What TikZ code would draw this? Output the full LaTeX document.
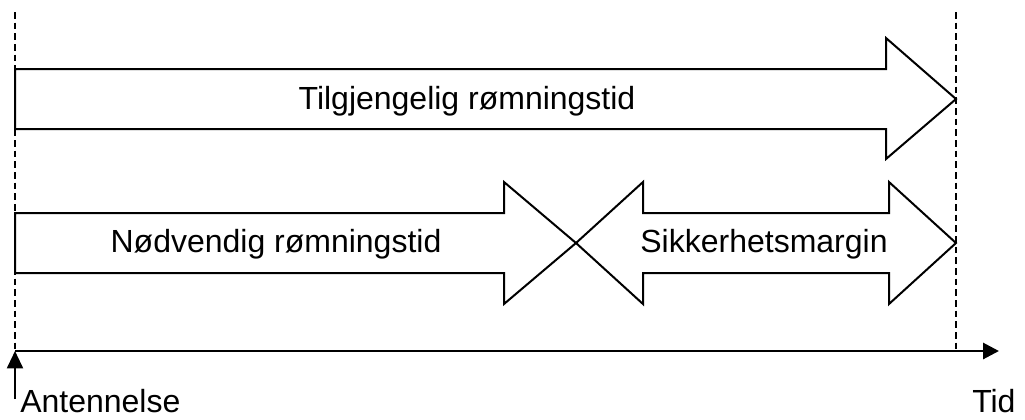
\documentclass[tikz,border=0pt]{standalone}
\usepackage{fontspec}
\setmainfont{Liberation Sans}
\usetikzlibrary{arrows.meta}
\begin{document}
\begin{tikzpicture}[x=0.75pt,y=-0.75pt,
  blockarrow/.style={draw=black,line width=1.5pt,line join=miter,fill=white},
  guide/.style={draw=black,line width=1.5pt,dash pattern=on 5pt off 3pt},
  axisline/.style={draw=black,line width=2.2pt,-{Triangle[length=12pt,width=12pt]}},
  lbl/.style={font=\fontsize{24}{28}\selectfont,inner sep=0pt}]
\useasboundingbox (0,0) rectangle (1025,419);
% time marks
\coordinate (t0) at (15,351);
\coordinate (t1) at (956,351);
\coordinate (tend) at (999,351);
\coordinate (t0top) at (15,12);
\coordinate (t1top) at (956,12);
\coordinate (ign) at (15,399);
% dashed guides
\draw[guide] (t0top) -- (t0);
\draw[guide] (t1top) -- (t1);
% available escape time
\draw[blockarrow] (15,69) -- (886,69) -- (886,38) -- (956,99) -- (886,159) -- (886,129) -- (15,129) -- cycle;
\node[lbl] (avail) at (467,101) {Tilgjengelig rømningstid};
% required escape time
\draw[blockarrow] (15,213) -- (504,213) -- (504,182) -- (576,243) -- (504,304) -- (504,273) -- (15,273) -- cycle;
\node[lbl] (req) at (276,244) {Nødvendig rømningstid};
% safety margin
\draw[blockarrow] (576,243) -- (643,182) -- (643,213) -- (889,213) -- (889,182) -- (956,243) -- (889,304) -- (889,273) -- (643,273) -- (643,304) -- cycle;
\node[lbl] (margin) at (764,244) {Sikkerhetsmargin};
% time axis
\draw[axisline] (t0) -- (tend);
\draw[draw=black,line width=1.5pt,-{Triangle[length=13pt,width=12pt]}] (ign) -- (t0);
\node[lbl,anchor=base west] (antennelse) at (20,412) {Antennelse};
\node[lbl,anchor=base west] (tid) at (972,412) {Tid};
\end{tikzpicture}
\end{document}
